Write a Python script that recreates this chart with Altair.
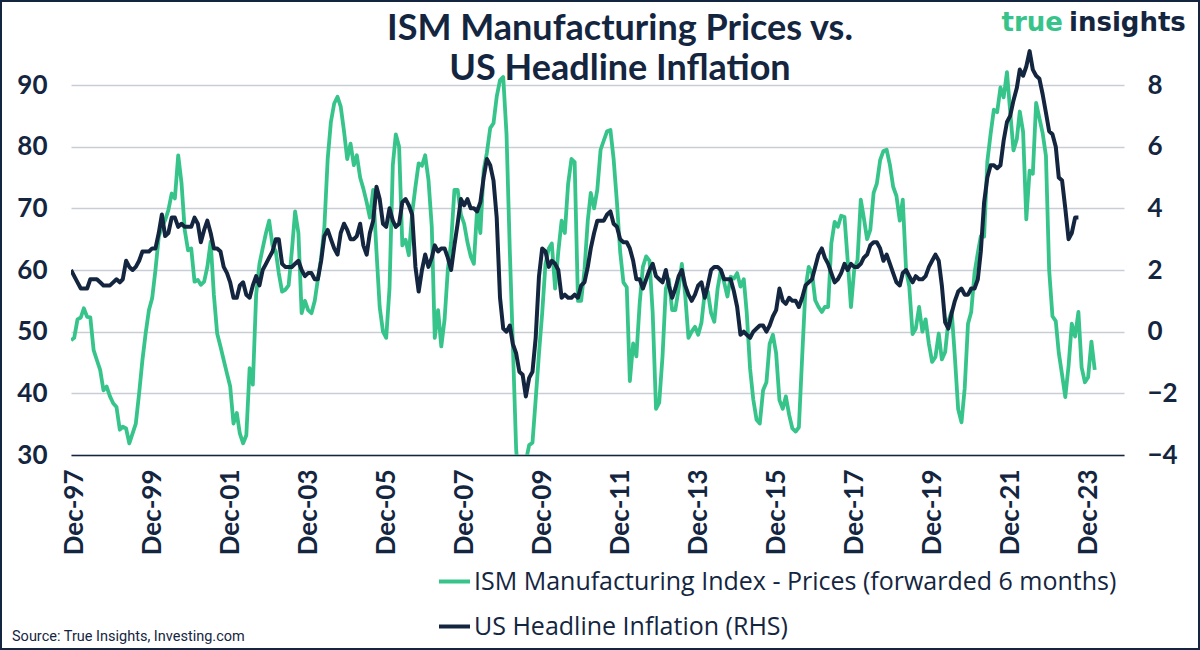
import altair as alt
import pandas as pd

GREEN = "#37c48a"
NAVY = "#14263f"
GRID = "#c9ced6"

ism_name = "ISM Manufacturing Index - Prices (forwarded 6 months)"
cpi_name = "US Headline Inflation (RHS)"

title_lines = ["ISM Manufacturing Prices vs.", "US Headline Inflation"]
source_text = "Source: True Insights, Investing.com"
logo_a, logo_b = "true", "insights"

# ISM prices index, forwarded (monthly, first value = Nov 1997)
ism_start = "1997-11-01"
ism_values = [
    48.6, 49.0,
    52.0, 52.3, 53.8, 52.4, 52.3, 47.0, 45.4, 43.8, 40.5, 41.1, 39.5, 38.4,   # 1998
    37.8, 34.1, 34.6, 34.3, 31.9, 33.5, 35.1, 40.0, 45.4, 49.7, 53.5, 55.4,   # 1999
    60.0, 65.4, 67.0, 68.1, 69.7, 72.4, 71.6, 78.6, 74.1, 66.5, 63.2, 63.5,   # 2000
    58.1, 58.4, 57.6, 58.1, 60.5, 64.6, 56.0, 49.7, 47.6, 45.4, 43.2, 41.1,   # 2001
    35.1, 36.8, 33.5, 31.9, 33.2, 44.1, 41.4, 56.0, 61.0, 63.5, 66.0, 68.0,   # 2002
    64.0, 63.0, 59.5, 56.5, 56.8, 57.5, 63.0, 69.5, 66.0, 53.0, 55.0, 53.5,   # 2003
    53.0, 55.0, 58.5, 62.0, 67.0, 78.0, 84.0, 87.0, 88.1, 86.5, 82.5, 78.0,   # 2004
    80.5, 77.0, 78.6, 75.0, 73.2, 71.0, 68.5, 73.0, 63.0, 54.0, 50.0, 49.0,   # 2005
    57.0, 77.0, 82.0, 80.0, 64.0, 64.9, 62.4, 69.2, 73.5, 77.3, 76.9, 78.6,   # 2006
    74.6, 67.0, 49.0, 53.5, 47.6, 52.0, 60.0, 64.5, 73.0, 73.0, 69.0, 67.5,   # 2007
    64.5, 62.2, 61.0, 70.0, 66.0, 76.2, 79.0, 83.0, 83.8, 88.1, 90.8, 91.3,   # 2008
    82.0, 63.0, 48.0, 31.0, 24.0, 18.0, 29.0, 31.6, 32.0, 39.0, 46.5, 53.0,   # 2009
    61.0, 63.5, 64.3, 57.0, 63.0, 68.0, 66.0, 74.0, 78.0, 77.5, 55.0, 55.0,   # 2010
    60.0, 68.0, 72.5, 70.0, 73.0, 79.5, 81.0, 82.5, 82.7, 78.0, 71.0, 63.0,   # 2011
    58.0, 57.2, 42.0, 48.1, 46.0, 54.6, 60.5, 62.2, 61.5, 53.0, 37.5, 38.5,   # 2012
    46.0, 57.0, 58.5, 53.5, 53.5, 57.0, 61.0, 56.0, 49.0, 50.0, 50.8, 49.5,   # 2013
    51.5, 56.5, 56.5, 53.0, 51.6, 57.0, 60.0, 58.0, 55.7, 58.9, 58.6, 59.5,   # 2014
    57.3, 58.5, 53.0, 44.0, 39.0, 35.7, 35.1, 40.5, 41.8, 48.0, 49.5, 46.5,   # 2015
    38.9, 37.5, 39.5, 36.5, 34.3, 33.8, 34.5, 46.0, 57.0, 60.5, 59.5, 55.1,   # 2016
    54.0, 53.2, 54.0, 54.0, 64.3, 67.8, 67.0, 68.8, 68.6, 61.6, 54.0, 60.0,   # 2017
    61.6, 71.4, 68.5, 65.0, 66.5, 72.5, 74.0, 77.8, 79.3, 79.5, 77.0, 73.5,   # 2018
    72.0, 68.0, 71.4, 60.0, 57.3, 49.6, 50.5, 54.0, 50.0, 52.0, 48.0, 45.1,   # 2019
    45.9, 49.7, 45.5, 46.7, 51.7, 53.3, 45.9, 37.4, 35.3, 40.8, 51.3, 53.2,   # 2020
    59.5, 62.8, 65.5, 65.4, 77.6, 82.1, 86.0, 85.6, 89.6, 88.0, 92.1, 85.7,   # 2021
    79.4, 81.2, 85.7, 82.4, 68.2, 76.1, 75.6, 87.1, 84.6, 82.2, 78.5, 60.0,   # 2022
    52.5, 51.7, 46.6, 43.0, 39.4, 44.5, 51.3, 49.2, 53.2, 44.2, 41.8, 42.6,   # 2023
    48.4, 43.8,                                                               # 2024
]

# US headline CPI, % y/y (monthly, first value = Nov 1997)
cpi_start = "1997-11-01"
cpi_values = [
    2.0, 1.8,
    1.6, 1.4, 1.4, 1.4, 1.7, 1.7, 1.7, 1.6, 1.5, 1.5, 1.5, 1.6,   # 1998
    1.7, 1.6, 1.7, 2.3, 2.1, 2.0, 2.1, 2.3, 2.6, 2.6, 2.6, 2.7,   # 1999
    2.7, 3.2, 3.8, 3.1, 3.2, 3.7, 3.7, 3.4, 3.5, 3.4, 3.4, 3.4,   # 2000
    3.7, 3.5, 2.9, 3.3, 3.6, 3.2, 2.7, 2.7, 2.6, 2.1, 1.9, 1.6,   # 2001
    1.1, 1.1, 1.5, 1.6, 1.2, 1.1, 1.5, 1.8, 1.5, 2.0, 2.2, 2.4,   # 2002
    2.6, 3.0, 3.0, 2.2, 2.1, 2.1, 2.1, 2.2, 2.3, 2.0, 1.8, 1.9,   # 2003
    1.9, 1.7, 1.7, 2.3, 3.1, 3.3, 3.0, 2.7, 2.5, 3.2, 3.5, 3.3,   # 2004
    3.0, 3.0, 3.1, 3.5, 2.8, 2.5, 3.2, 3.6, 4.7, 4.3, 3.5, 3.4,   # 2005
    4.0, 3.6, 3.4, 3.5, 4.2, 4.3, 4.1, 3.8, 2.1, 1.3, 2.0, 2.5,   # 2006
    2.1, 2.4, 2.8, 2.6, 2.7, 2.7, 2.4, 2.0, 2.8, 3.5, 4.3, 4.1,   # 2007
    4.3, 4.0, 4.0, 3.9, 4.2, 5.0, 5.6, 5.4, 4.9, 3.7, 1.1, 0.1,   # 2008
    0.0, 0.2, -0.4, -0.7, -1.3, -1.4, -2.1, -1.5, -1.3, -0.2, 1.8, 2.7,   # 2009
    2.6, 2.1, 2.3, 2.2, 2.0, 1.1, 1.2, 1.1, 1.1, 1.2, 1.1, 1.5,   # 2010
    1.6, 2.1, 2.7, 3.2, 3.6, 3.6, 3.6, 3.8, 3.9, 3.5, 3.4, 3.0,   # 2011
    2.9, 2.9, 2.7, 2.3, 1.7, 1.7, 1.4, 1.7, 2.0, 2.2, 1.8, 1.7,   # 2012
    1.6, 2.0, 1.5, 1.1, 1.4, 1.8, 2.0, 1.5, 1.2, 1.0, 1.2, 1.5,   # 2013
    1.6, 1.1, 1.5, 2.0, 2.1, 2.1, 2.0, 1.7, 1.7, 1.7, 1.3, 0.8,   # 2014
    -0.1, 0.0, -0.1, -0.2, 0.0, 0.1, 0.2, 0.2, 0.0, 0.2, 0.5, 0.7,   # 2015
    1.4, 1.0, 0.9, 1.1, 1.0, 1.0, 0.8, 1.1, 1.5, 1.6, 1.7, 2.1,   # 2016
    2.5, 2.7, 2.4, 2.2, 1.9, 1.6, 1.7, 1.9, 2.2, 2.0, 2.2, 2.1,   # 2017
    2.1, 2.2, 2.4, 2.5, 2.8, 2.9, 2.9, 2.7, 2.3, 2.5, 2.2, 1.9,   # 2018
    1.6, 1.5, 1.9, 2.0, 1.8, 1.6, 1.8, 1.7, 1.7, 1.8, 2.1, 2.3,   # 2019
    2.5, 2.3, 1.5, 0.3, 0.1, 0.6, 1.0, 1.3, 1.4, 1.2, 1.2, 1.4,   # 2020
    1.4, 1.7, 2.6, 4.2, 5.0, 5.4, 5.4, 5.3, 5.4, 6.2, 6.8, 7.0,   # 2021
    7.5, 7.9, 8.5, 8.3, 8.6, 9.1, 8.5, 8.3, 8.2, 7.7, 7.1, 6.5,   # 2022
    6.4, 6.0, 5.0, 4.9, 4.0, 3.0, 3.2, 3.7, 3.7,                  # 2023
]

left_ticks = [30, 40, 50, 60, 70, 80, 90]
right_ticks = [-4, -2, 0, 2, 4, 6, 8]
x_label_years = list(range(1997, 2024, 2))

ism_df = pd.DataFrame({
    "date": pd.date_range(ism_start, periods=len(ism_values), freq="MS").strftime("%Y-%m-%d"),
    "value": ism_values,
    "series": ism_name,
})
cpi_df = pd.DataFrame({
    "date": pd.date_range(cpi_start, periods=len(cpi_values), freq="MS").strftime("%Y-%m-%d"),
    "value": cpi_values,
    "series": cpi_name,
})

W, H = 1053, 407
PL, PT = 71, 48

x_enc = alt.X(
    "date:T",
    scale=alt.Scale(type="utc", domain=[alt.DateTime(year=1997, month=11, date=1, utc=True),
                                        alt.DateTime(year=2024, month=11, date=1, utc=True)]),
    axis=alt.Axis(
        values=[alt.DateTime(year=y, month=12, date=1, utc=True) for y in x_label_years],
        labelExpr="utcFormat(datum.value, '%b-%y')", labelAngle=-90, labelFont="Lato",
        labelFontWeight="bold", labelFontSize=26, labelColor=NAVY, labelPadding=14,
        ticks=False, grid=False, domain=True, domainColor=NAVY, domainWidth=1.5,
        labelOverlap=False, labelBound=False, title="",
    ),
)

color_enc = alt.Color(
    "series:N",
    scale=alt.Scale(domain=[ism_name, cpi_name], range=[GREEN, NAVY]),
    legend=alt.Legend(
        title=None, orient="none", legendX=366, legendY=516, direction="vertical",
        symbolType="stroke", symbolSize=961, symbolStrokeWidth=4,
        labelFont="Open Sans", labelFontSize=25, labelColor=NAVY, labelOffset=2,
        rowPadding=14, labelLimit=900,
    ),
)

ism_line = alt.Chart(ism_df).mark_line(strokeWidth=3.8, clip=True, strokeJoin="round").encode(
    x=x_enc,
    y=alt.Y("value:Q", scale=alt.Scale(domain=[30, 96], nice=False, zero=False),
            axis=alt.Axis(values=left_ticks, grid=True, gridColor=GRID, gridWidth=1.5,
                          domain=False, ticks=False, labelPadding=24, labelFont="Lato",
                          labelFontWeight="bold", labelFontSize=26, labelColor=NAVY, title="")),
    color=color_enc,
)

cpi_line = alt.Chart(cpi_df).mark_line(strokeWidth=4, clip=True, strokeJoin="round").encode(
    x=x_enc,
    y=alt.Y("value:Q", scale=alt.Scale(domain=[-4, 9.2], nice=False, zero=False),
            axis=alt.Axis(orient="right", values=right_ticks, grid=False, domain=False,
                          ticks=False, labelPadding=23, labelFont="Lato",
                          labelFontWeight="bold", labelFontSize=26, labelColor=NAVY, title="")),
    color=color_enc,
)

lines = alt.layer(ism_line, cpi_line).resolve_scale(y="independent")

def text_layer(txt, x, y, **kw):
    return alt.Chart(pd.DataFrame({"t": [txt]})).mark_text(baseline="alphabetic", **kw).encode(
        x=alt.value(x), y=alt.value(y), text="t:N")

title1 = text_layer(title_lines[0], 549, -8, font="Lato", fontSize=36, fontWeight="bold",
                    color=NAVY, align="center")
title2 = text_layer(title_lines[1], 549, 32, font="Lato", fontSize=36, fontWeight="bold",
                    color=NAVY, align="center")
logo1 = text_layer(logo_a, 992, -17, font="DejaVu Sans", fontSize=26, fontWeight="bold",
                   color=GREEN, align="right")
logo2 = text_layer(logo_b, 998, -17, font="DejaVu Sans", fontSize=26, fontWeight="bold",
                   color=NAVY, align="left")
source = text_layer(source_text, -59, 593, font="Roboto", fontSize=14.5, color=NAVY, align="left")

border = alt.Chart(pd.DataFrame({"b": [1]})).mark_rect(
    fillOpacity=0, stroke=NAVY, strokeWidth=2, clip=False).encode(
    x=alt.value(-70), x2=alt.value(1128), y=alt.value(-47), y2=alt.value(601))

chart = alt.layer(lines, title1, title2, logo1, logo2, source, border).properties(
    width=W, height=H,
    padding={"left": PL, "top": PT, "right": 1200 - PL - W, "bottom": 650 - PT - H},
    autosize=alt.AutoSizeParams(type="none"),
    background="white",
).configure_view(strokeWidth=0)

chart.save("out.html", embed_options={"renderer": "svg", "actions": False})
